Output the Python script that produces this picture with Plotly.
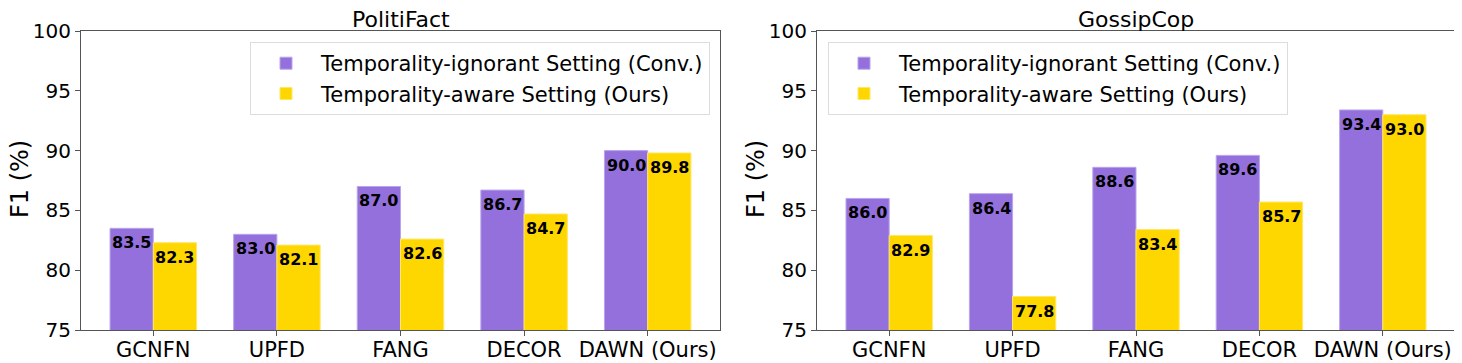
import numpy as np
import plotly.graph_objects as go
from plotly.subplots import make_subplots

methods = ["GCNFN", "UPFD", "FANG", "DECOR", "DAWN (Ours)"]
datasets = ["PolitiFact", "GossipCop"]
series_names = ["Temporality-ignorant Setting (Conv.)", "Temporality-aware Setting (Ours)"]

politifact_conv = [83.5, 83.0, 87.0, 86.7, 90.0]
politifact_ours = [82.3, 82.1, 82.6, 84.7, 89.8]
gossipcop_conv = [86.0, 86.4, 88.6, 89.6, 93.4]
gossipcop_ours = [82.9, 77.8, 83.4, 85.7, 93.0]

yticks = [75, 80, 85, 90, 95, 100]

colors = ["#9370DB", "#FFD700"]
edge = ["#B9A5EC", "#FFE766"]
font = "DejaVu Sans"
bw = 0.35
idx = np.arange(len(methods))

# page body adds an 8px margin, so the figure is 8px smaller on each side
W, H = 1454, 355

fig = make_subplots(rows=1, cols=2)
fig.update_xaxes(domain=[73 / W, 712 / W], row=1, col=1)
fig.update_xaxes(domain=[809 / W, 1447 / W], row=1, col=2)

panels = [(politifact_conv, politifact_ours), (gossipcop_conv, gossipcop_ours)]
for c, (conv, ours) in enumerate(panels, start=1):
    legend = "legend" if c == 1 else "legend2"
    xref = "x" if c == 1 else "x2"
    yref = "y" if c == 1 else "y2"
    for k, vals in enumerate([conv, ours]):
        fig.add_trace(go.Bar(
            x=idx, y=vals, width=bw, offset=-bw if k == 0 else 0,
            name=series_names[k], legend=legend,
            marker=dict(color=colors[k], line=dict(color=edge[k], width=1)),
        ), row=1, col=c)
        for i, v in zip(idx, vals):
            fig.add_annotation(
                x=i + (-bw / 2 if k == 0 else bw / 2), y=v, xref=xref, yref=yref,
                text="<b>%.1f</b>" % v, showarrow=False, yanchor="top", yshift=-3,
                font=dict(family=font, size=16, color="black"),
            )
    # panel title
    fig.add_annotation(
        x=0.5, y=1.0, xref=xref + " domain", yref=yref + " domain",
        text=datasets[c - 1], showarrow=False, yanchor="bottom", yshift=-3,
        font=dict(family=font, size=22, color="black"),
    )
    # y axis title
    fig.add_annotation(
        x=0, y=0.505, xref=xref + " domain", yref=yref + " domain",
        text="F1 (%)", showarrow=False, textangle=-90,
        xanchor="right", yanchor="middle", xshift=-45,
        font=dict(family=font, size=24, color="black"),
    )

fig.update_xaxes(
    range=[-0.585, 4.585], tickvals=idx, ticktext=methods,
    showline=True, mirror=True, linecolor="#555", linewidth=1,
    ticks="outside", ticklen=5, tickcolor="#555", showgrid=False, zeroline=False,
    tickfont=dict(family=font, size=21, color="black"), automargin=False,
    ticklabelstandoff=-4,
)
fig.update_yaxes(
    range=[75, 100], tickvals=yticks,
    showline=True, mirror=True, linecolor="#555", linewidth=1,
    ticks="outside", ticklen=5, tickcolor="#555", showgrid=False, zeroline=False,
    tickfont=dict(family=font, size=20, color="black"), automargin=False,
)

legend_style = dict(
    font=dict(family=font, size=21, color="black"),
    bgcolor="rgba(255,255,255,0.8)", bordercolor="#DDDDDD", borderwidth=1,
    yanchor="top", y=0.963, itemwidth=60, tracegroupgap=2,
)
fig.update_layout(
    template="plotly_white",
    width=W, height=H,
    margin=dict(l=0, r=0, t=23, b=33),
    barmode="overlay",
    showlegend=True,
    plot_bgcolor="white", paper_bgcolor="white",
    legend=dict(xanchor="right", x=702 / W, **legend_style),
    legend2=dict(xanchor="left", x=820 / W, **legend_style),
)

fig.write_html("out.html")
